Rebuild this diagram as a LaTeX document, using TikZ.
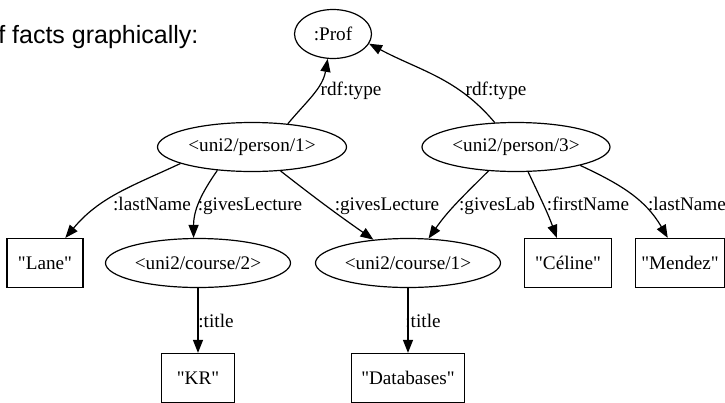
\documentclass[tikz,border=0pt]{standalone}
\usepackage{fontspec}
\setmainfont{Liberation Serif}[Ligatures=TeXOff]
\newfontfamily\headfont{Liberation Sans}
\usetikzlibrary{shapes.geometric,arrows.meta}

\begin{document}
\begin{tikzpicture}[x=1pt, y=1pt, >={Triangle[length=13pt,width=10pt]}, line width=1.2pt,
  every node/.style={font=\fontsize{19.2}{22}\selectfont},
  res/.style={draw, ellipse, inner sep=0pt, minimum height=49pt},
  lit/.style={draw, rectangle, inner sep=0pt, minimum height=49pt},
  lbl/.style={inner sep=0pt, anchor=base}]
\useasboundingbox (0,0) rectangle (725,-402);
\node[font=\headfont\fontsize{25}{30}\selectfont, anchor=base east, inner sep=0pt] (head) at (199,-43) {f facts graphically:};
% resources
\node[res, minimum width=77pt] (prof) at (333,-34) {:Prof};
\node[res, minimum width=189pt] (p1) at (252,-147) {<uni2/person/1>};
\node[res, minimum width=188pt] (p3) at (516,-147) {<uni2/person/3>};
\node[res, minimum width=185pt] (c2) at (198,-263) {<uni2/course/2>};
\node[res, minimum width=185pt] (c1) at (408,-263) {<uni2/course/1>};
% literals
\node[lit, minimum width=76pt] (lane) at (45,-263) {"Lane"};
\node[lit, minimum width=87pt] (celine) at (568,-263) {"Céline"};
\node[lit, minimum width=89pt] (mendez) at (680,-263) {"Mendez"};
\node[lit, minimum width=73pt] (kr) at (198,-378) {"KR"};
\node[lit, minimum width=113pt] (db) at (408,-378) {"Databases"};
% triples
\draw[->] (p1.33) to[out=50,in=-100] (prof.-102);
\node[lbl] (type1) at (351,-95) {rdf:type};
\draw[->] (p3.131) to[out=130,in=-28] (prof.-15);
\node[lbl] (type3) at (496,-95) {rdf:type};
\draw[->] (p1.193) to[out=205,in=50] (lane.51);
\node[lbl] (last1) at (152,-210) {:lastName};
\draw[->] (p1.214) to[out=235,in=90] (c2.100);
\node[lbl] (lect2) at (250,-210) {:givesLecture};
\draw[->] (p1.-40) to[out=-38,in=145] (c1.146);
\node[lbl] (lect1) at (387,-210) {:givesLecture};
\draw[->] (p3.221) to[out=225,in=55] (c1.50);
\node[lbl] (lab1) at (497,-210) {:givesLab};
\draw[->] (p3.-64) to[out=-65,in=110] (celine.114);
\node[lbl] (first3) at (588,-210) {:firstName};
\draw[->] (p3.-16) to[out=-25,in=120] (mendez.116);
\node[lbl] (last3) at (687,-210) {:lastName};
\draw[->] (c2) -- (kr);
\node[lbl] (title2) at (216,-327) {:title};
\draw[->] (c1) -- (db);
\node[lbl] (title1) at (423,-327) {:title};
\end{tikzpicture}
\end{document}
